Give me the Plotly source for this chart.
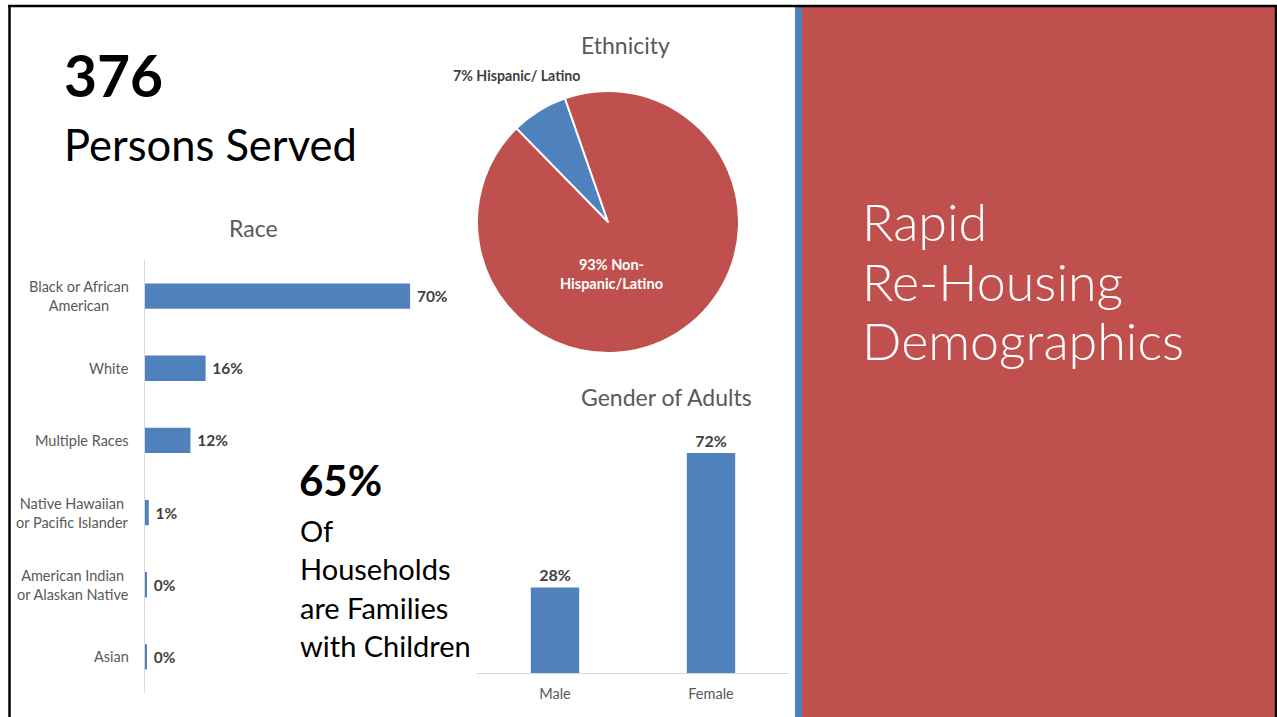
import plotly.graph_objects as go

W, H = 1277, 717

# ---------------- data ----------------
race_categories = ["Black or African American", "White", "Multiple Races",
                   "Native Hawaiian or Pacific Islander",
                   "American Indian or Alaskan Native", "Asian"]
race_tick_labels = ["Black or African<br>American", "White", "Multiple Races",
                    "Native Hawaiian<br>or Pacific Islander",
                    "American Indian<br>or Alaskan Native", "Asian"]
race_values = [70, 16, 12, 1, 0.4, 0.4]

eth_labels = ["Hispanic/ Latino", "Non-<br>Hispanic/Latino"]
eth_values = [7, 93]

gender_categories = ["Male", "Female"]
gender_values = [28, 72]

persons_served = 376
families_pct = 65

BLUE = "#4F81BD"
RED = "#C0504D"
FONT = "Lato"


def X(px):
    return px / W


def Y(py):
    return 1 - py / H


fig = go.Figure()

# Race horizontal bars
fig.add_trace(go.Bar(
    x=race_values, y=race_categories, orientation="h",
    marker=dict(color=BLUE, line=dict(width=0)),
    width=0.35,
    texttemplate="\u00a0%{x:.0f}%", textposition="outside",
    textfont=dict(family=FONT, size=15.5, color="#404040", weight="bold"),
    constraintext="none", cliponaxis=False,
    xaxis="x", yaxis="y", showlegend=False, hoverinfo="skip",
))

# Gender vertical bars
fig.add_trace(go.Bar(
    x=gender_categories, y=gender_values,
    marker=dict(color=BLUE, line=dict(width=0)),
    width=0.31,
    texttemplate="%{y:.0f}%", textposition="outside",
    textfont=dict(family=FONT, size=16, color="#404040", weight="bold"),
    constraintext="none", cliponaxis=False,
    xaxis="x2", yaxis="y2", showlegend=False, hoverinfo="skip",
))

# Ethnicity pie
fig.add_trace(go.Pie(
    labels=eth_labels, values=eth_values, sort=False,
    direction="clockwise", rotation=-44.4,
    marker=dict(colors=[BLUE, RED], line=dict(color="white", width=2)),
    textinfo="none", hoverinfo="skip", showlegend=False,
    domain=dict(x=[X(477), X(739)], y=[Y(353), Y(91)]),
))

annotations = []

# race tick labels (centered multi-line)
for cat, lab in zip(race_categories, race_tick_labels):
    annotations.append(dict(
        x=X(131), y=cat, xref="paper", yref="y", xanchor="right", yanchor="middle",
        text=lab, align="center", showarrow=False,
        font=dict(family=FONT, size=14.5, color="#595959"),
    ))

# pie labels
annotations.append(dict(
    x=X(517), y=Y(75), xref="paper", yref="paper", xanchor="center", yanchor="middle",
    text=f"{eth_values[0]}% {eth_labels[0]}", showarrow=False,
    font=dict(family=FONT, size=14.2, color="#404040", weight="bold"),
))
annotations.append(dict(
    x=X(611), y=Y(274), xref="paper", yref="paper", xanchor="center", yanchor="middle",
    text=f"{eth_values[1]}% {eth_labels[1]}", showarrow=False, align="center",
    font=dict(family=FONT, size=14.5, color="white", weight="bold"),
))

# chart titles
for txt, cx, cy, fs in [("Race", 253, 228, 23), ("Ethnicity", 625, 45, 23),
                        ("Gender of Adults", 667, 397, 23)]:
    annotations.append(dict(
        x=X(cx), y=Y(cy), xref="paper", yref="paper", xanchor="center", yanchor="middle",
        text=txt, showarrow=False, font=dict(family=FONT, size=fs, color="#595959"),
    ))

# big text, left
annotations.append(dict(
    x=X(62), y=Y(75), xref="paper", yref="paper", xanchor="left", yanchor="middle",
    text=str(persons_served), showarrow=False,
    font=dict(family=FONT, size=57, color="black", weight="bold"),
))
annotations.append(dict(
    x=X(62), y=Y(144), xref="paper", yref="paper", xanchor="left", yanchor="middle",
    text="Persons Served", showarrow=False,
    font=dict(family=FONT, size=43.5, color="black"),
))
annotations.append(dict(
    x=X(297), y=Y(480), xref="paper", yref="paper", xanchor="left", yanchor="middle",
    text=f"{families_pct}%", showarrow=False,
    font=dict(family=FONT, size=42, color="black", weight="bold"),
))
for i, line in enumerate(["Of", "Households", "are Families", "with Children"]):
    annotations.append(dict(
        x=X(298), y=Y(530 + 38.5 * i), xref="paper", yref="paper", xanchor="left",
        yanchor="middle", text=line, showarrow=False,
        font=dict(family=FONT, size=29, color="black"),
    ))

# right panel title
for i, line in enumerate(["Rapid", "Re-Housing", "Demographics"]):
    annotations.append(dict(
        x=X(860), y=Y(221 + 59.5 * i), xref="paper", yref="paper", xanchor="left",
        yanchor="middle", text=line, showarrow=False,
        font=dict(family=FONT, size=52, color="white", weight=300),
    ))

shapes = [
    # red panel and blue strip
    dict(type="rect", xref="paper", yref="paper", x0=X(802), x1=X(1275), y0=0, y1=Y(7),
         fillcolor=RED, line=dict(width=0), layer="below"),
    dict(type="rect", xref="paper", yref="paper", x0=X(795), x1=X(802), y0=0, y1=Y(7),
         fillcolor=BLUE, line=dict(width=0), layer="below"),
    # black frame
    dict(type="line", xref="paper", yref="paper", x0=X(8), x1=1, y0=Y(6), y1=Y(6),
         line=dict(color="black", width=2.5)),
    dict(type="line", xref="paper", yref="paper", x0=X(9.5), x1=X(9.5), y0=0, y1=Y(6),
         line=dict(color="black", width=2.5)),
    dict(type="line", xref="paper", yref="paper", x0=X(1276), x1=X(1276), y0=0, y1=Y(6),
         line=dict(color="black", width=2.5)),
]

fig.update_layout(
    width=W, height=H,
    margin=dict(l=0, r=0, t=0, b=0),
    paper_bgcolor="white", plot_bgcolor="rgba(0,0,0,0)",
    font=dict(family=FONT),
    annotations=annotations, shapes=shapes,
    xaxis=dict(domain=[X(145), X(448)], range=[0, 80], visible=False, fixedrange=True),
    yaxis=dict(domain=[Y(693), Y(260)], type="category",
               categoryorder="array", categoryarray=race_categories[::-1],
               showticklabels=False, ticks="", showgrid=False, zeroline=False,
               showline=True, linecolor="#D9D9D9", linewidth=1, fixedrange=True),
    xaxis2=dict(domain=[X(477), X(789)], anchor="y2", type="category",
                showline=True, linecolor="#D9D9D9", linewidth=1, ticks="",
                showgrid=False, ticklabelstandoff=8,
                tickfont=dict(family=FONT, size=14.5, color="#595959"), fixedrange=True),
    yaxis2=dict(domain=[Y(673), Y(428.5)], anchor="x2", range=[0, 80], visible=False,
                fixedrange=True),
)

fig.write_html(
    "out.html",
    config={"displayModeBar": False},
    post_script="document.body.style.margin='0';document.body.style.overflow='hidden';",
)
